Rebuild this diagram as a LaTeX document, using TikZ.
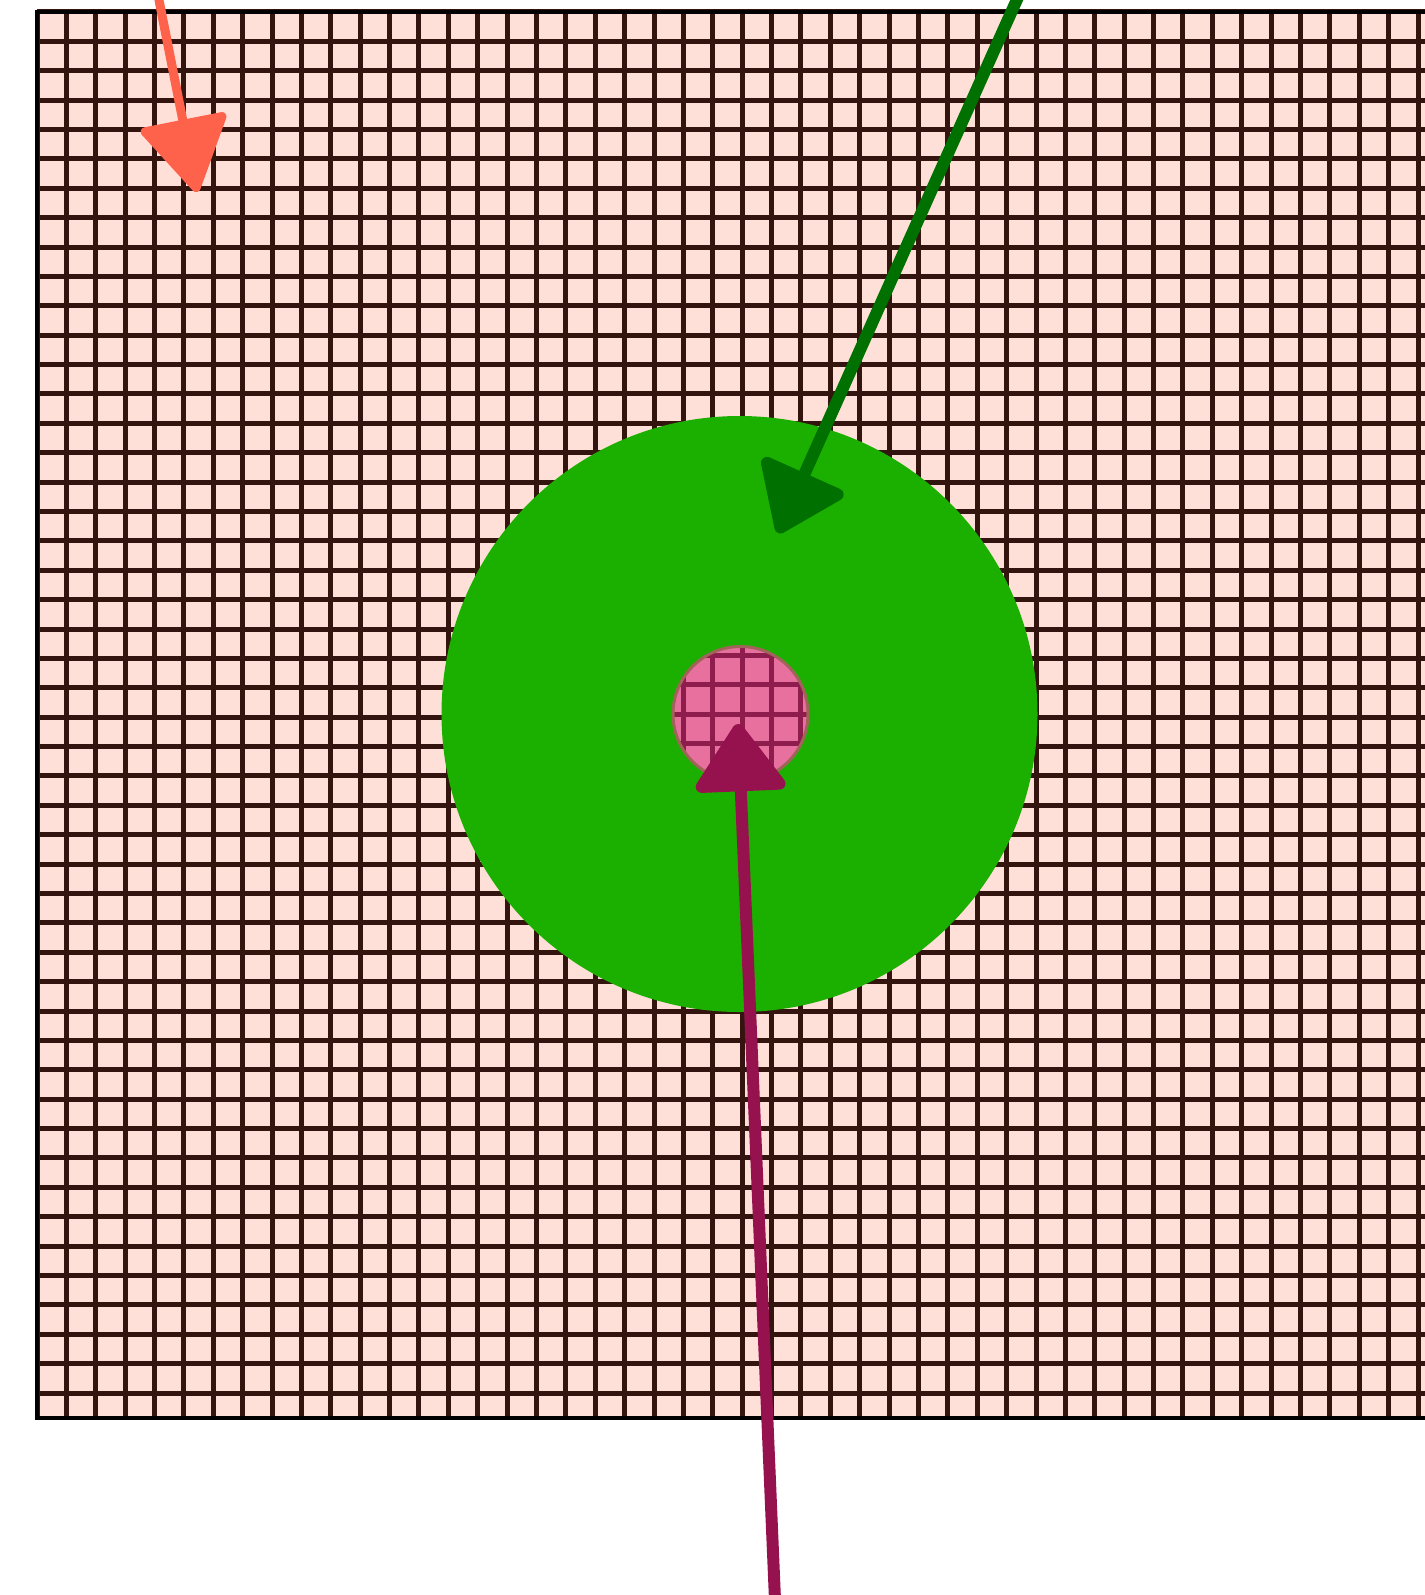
\documentclass[tikz,border=0pt]{standalone}
\usetikzlibrary{arrows.meta}
\definecolor{gridbg}{HTML}{FFE0D9}
\definecolor{gridln}{HTML}{33140F}
\definecolor{ringgreen}{HTML}{1BB000}
\definecolor{darkgreen}{HTML}{007100}
\definecolor{tomatoc}{HTML}{FF624A}
\definecolor{plumc}{HTML}{96124F}
\definecolor{hubpink}{HTML}{E8709F}
\definecolor{hubline}{HTML}{8E1C4C}
\definecolor{hubrim}{HTML}{A06458}
\tikzset{
  gridline/.style={gridln, line width=5pt},
  hubgrid/.style={hubline, line width=5pt},
}
\begin{document}
\begin{tikzpicture}[x=1pt,y=-1pt]
\useasboundingbox (0,0) rectangle (1424,1595);
% background grid
\fill[gridbg] (37,12) rectangle (1440,1418);
\foreach \i in {0,...,48} \draw[gridline] ({37+29.383*\i},12) -- ({37+29.383*\i},1418);
\foreach \j in {0,...,47} \draw[gridline] (37,{12+29.383*\j}) -- (1440,{12+29.383*\j});
\draw[black, line width=3.5pt] (1440,12) -- (37,12) -- (37,1418) -- (1440,1418);
% ring
\node[circle, fill=ringgreen, minimum size=596pt, inner sep=0pt] (ring) at (739.5,714) {};
% hub
\node[circle, fill=hubpink, minimum size=135pt, inner sep=0pt] (hub) at (740.5,714) {};
\begin{scope}
  \clip (hub.center) circle[radius=67.5];
  \foreach \i in {21,...,26} \draw[hubgrid] ({37+29.383*\i},600) -- ({37+29.383*\i},820);
  \foreach \j in {21,...,25} \draw[hubgrid] (600,{9+29.383*\j}) -- (880,{9+29.383*\j});
\end{scope}
\draw[hubrim, line width=3pt] (hub.center) circle[radius=67.5];
% arrows
\coordinate (oS) at (158,-5);
\coordinate (oE) at (197,192);
\draw[tomatoc, line width=9pt, -{Triangle[length=78pt,width=92pt,round]}] (oS) -- (oE);
\coordinate (gS) at (1019,-5);
\coordinate (gE) at (778,533);
\draw[darkgreen, line width=12pt, -{Triangle[length=70pt,width=98pt,round]}] (gS) -- (gE);
\coordinate (mS) at (775,1600);
\coordinate (mE) at (738,724);
\draw[plumc, line width=12pt, -{Triangle[length=72pt,width=98pt,round]}] (mS) -- (mE);
\end{tikzpicture}
\end{document}
